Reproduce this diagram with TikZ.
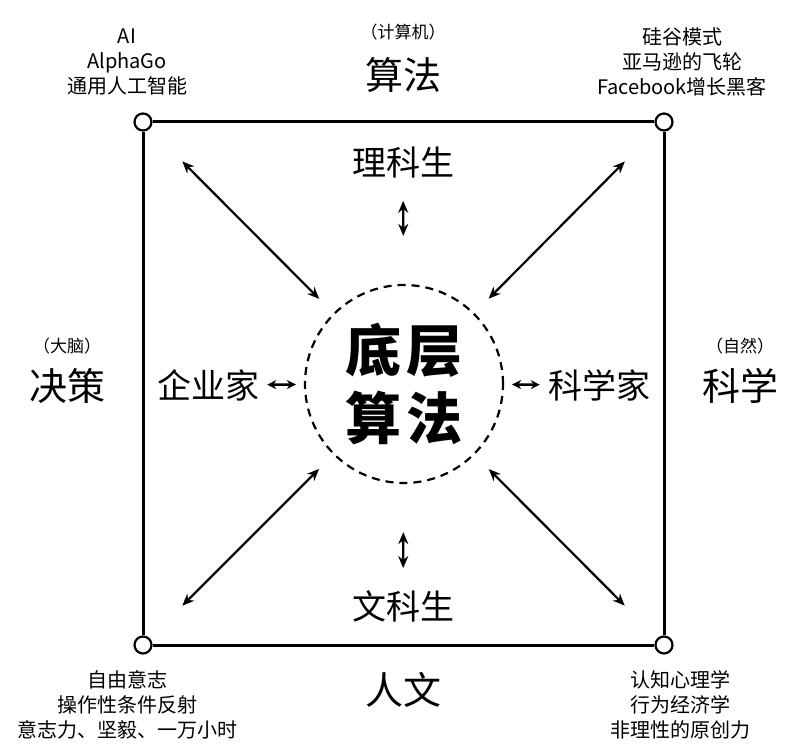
\documentclass[tikz,border=0pt]{standalone}
\usepackage{fontspec}
\setmainfont{Noto Sans CJK SC}
\usetikzlibrary{arrows.meta}

\begin{document}
\begin{tikzpicture}[x=1pt, y=-1pt,
  corner/.style={circle, draw, fill=white, line width=2.2pt, minimum size=17pt, inner sep=0pt},
  small/.style={font=\fontsize{20}{25}\selectfont, align=center, inner sep=0pt},
  big/.style={font=\fontsize{38}{40}\selectfont, inner sep=0pt},
  tag/.style={font=\fontsize{17}{18}\selectfont, inner sep=0pt},
  role/.style={font=\fontsize{34}{36}\selectfont, inner sep=0pt},
  link/.style={{Stealth[length=12pt,width=10pt]}-{Stealth[length=12pt,width=10pt]}, line width=2.2pt},
  tiny/.style={{Stealth[length=9pt,width=9pt]}-{Stealth[length=9pt,width=9pt]}, line width=2.4pt}]
  \fill[white] (0,0) rectangle (800,754);
  \useasboundingbox (0,0) rectangle (800,754);

  % corners and frame
  \node[corner] (tl) at (143,122) {};
  \node[corner] (tr) at (664,122) {};
  \node[corner] (br) at (664,645) {};
  \node[corner] (bl) at (143,645) {};
  \draw[line width=3pt] (tl) -- (tr) (tr) -- (br) (br) -- (bl) (bl) -- (tl);

  % centre
  \node[circle, draw, dashed, dash pattern=on 8pt off 6pt, line width=2.2pt,
        minimum size=198pt, inner sep=0pt] (core) at (404,384) {};
  \node[font=\fontsize{56}{68}\selectfont\bfseries, align=center, inner sep=0pt]
    (name) at (404,384) {底\hspace{6pt}层\\算\hspace{6pt}法};

  % sides
  \node[tag] (t1) at (403,32) {（计算机）};
  \node[big] (s1) at (403,75) {算法};
  \node[tag] (t2) at (67,346) {（大脑）};
  \node[big] (s2) at (67,386) {决策};
  \node[tag] (t3) at (740,346) {（自然）};
  \node[big] (s3) at (740,386) {科学};
  \node[big] (s4) at (403,690) {人文};

  % roles
  \node[role] (lk) at (403,163) {理科生};
  \node[role] (wk) at (403,606) {文科生};
  \node[role] (qy) at (208,385) {企业家};
  \node[role] (kx) at (599,385) {科学家};

  % corner notes
  \node[small] (n1) at (127,62) {AI\\AlphaGo\\通用人工智能};
  \node[small] (n2) at (682,62) {硅谷模式\\亚马逊的飞轮\\Facebook增长黑客};
  \node[small] (n3) at (127,705) {自由意志\\操作性条件反射\\意志力、坚毅、一万小时};
  \node[small] (n4) at (680,705) {认知心理学\\行为经济学\\非理性的原创力};

  % arrows
  \draw[link, shorten <=46pt, shorten >=20pt] (tl) -- (core);
  \draw[link, shorten <=46pt, shorten >=20pt] (tr) -- (core);
  \draw[link, shorten <=46pt, shorten >=20pt] (bl) -- (core);
  \draw[link, shorten <=46pt, shorten >=20pt] (br) -- (core);
  \draw[link, shorten <=22pt, shorten >=48pt] (lk) -- (core);
  \draw[link, shorten <=22pt, shorten >=48pt] (wk) -- (core);
  \draw[tiny, shorten <=8pt, shorten >=8pt] (qy) -- (core);
  \draw[tiny, shorten <=8pt, shorten >=8pt] (kx) -- (core);
\end{tikzpicture}
\end{document}
